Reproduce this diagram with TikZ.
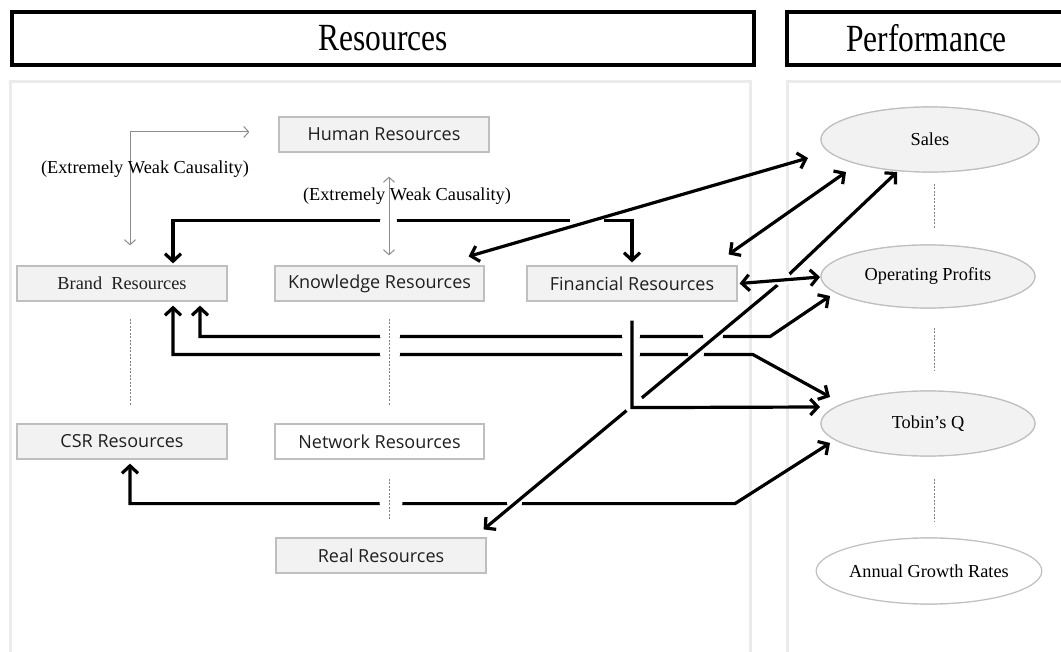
\documentclass[tikz,border=0pt]{standalone}
\usepackage{fontspec}
\usepackage{graphicx}
\setmainfont{Liberation Serif}
\newfontfamily\boxfont{Open Sans}
\usetikzlibrary{arrows.meta,shapes.geometric,calc}
\definecolor{boxfill}{HTML}{F2F2F2}
\definecolor{boxline}{HTML}{BFBFBF}
\definecolor{panelc}{HTML}{EBEBEB}
\definecolor{thinc}{HTML}{8C8C8C}
\definecolor{dotc}{HTML}{808080}
\begin{document}
\begin{tikzpicture}[x=1pt,y=-1pt,
  font=\fontsize{18.3}{21}\selectfont,
  bk/.tip={Straight Barb[length=7.5pt,width=16pt,line width=3.2pt]},
  gy/.tip={Straight Barb[length=5pt,width=11pt,line width=1pt]},
  res/.style={draw=boxline, fill=boxfill, line width=1.2pt, minimum width=210pt, minimum height=35pt, inner sep=0pt, font=\boxfont\fontsize{18}{21}\selectfont, text=black!88},
  perf/.style={ellipse, draw=boxline, fill=boxfill, line width=1.2pt, minimum width=214pt, minimum height=64pt, inner sep=0pt},
  header/.style={draw=black, line width=3.4pt, inner sep=0pt, minimum height=53pt, font=\fontsize{31.5}{36}\selectfont},
  link/.style={line width=3.2pt},
  thinlink/.style={draw=thinc, line width=1pt},
  dotline/.style={draw=dotc, line width=0.9pt, dash pattern=on 2pt off 1.5pt},
  gapc/.style={fill=white},
  weak/.style={font=\fontsize{18.3}{21}\selectfont}
]
\useasboundingbox (0,0) rectangle (1061,652);
\clip (0,0) rectangle (1061,652);

% panels
\draw[panelc, line width=3pt] (10,82) rectangle (750,680);
\draw[panelc, line width=3pt] (787,82) rectangle (1100,680);

% headers
\node[header, minimum width=742pt] (hres) at (383,38.5) {\scalebox{1}[1.22]{Resources}};
\node[header, minimum width=279pt] (hperf) at (926.5,38.5) {\scalebox{1}[1.22]{Performance}};

% nodes (shapes only, for anchors)
\path
  (384,134.5)   node[res] (human) {}
  (122,283.5)   node[res] (brand) {}
  (379.5,283.5) node[res, minimum width=209pt] (know) {}
  (632,283.5)   node[res] (fin) {}
  (122,441.5)   node[res] (csr) {}
  (379.5,441.5) node[res, minimum width=209pt, fill=white] (net) {}
  (381,555.5)   node[res] (real) {}
  (930,139.5)   node[perf, minimum width=218pt, minimum height=65pt] (sales) {}
  (928,276.5)   node[perf, minimum height=63pt] (op) {}
  (928,423.5)   node[perf, minimum height=65pt] (tobin) {}
  (929,571)     node[perf, minimum height=66pt, fill=white] (agr) {};

% thick connectors lying underneath
\draw[link, bk-bk] ($(brand.north)+(51,-2)$) -- ++(0,-43) -| ($(fin.north)+(0,-3)$);
\draw[link, bk-bk] ($(brand.south)+(78,4)$) -- ++(0,31) -- ++(570,0) -- ($(op.center)+(-98,19.5)$);
\draw[link, bk-bk] ($(brand.south)+(51,4)$) -- ++(0,49) -- ++(580,0) -- ($(tobin.center)+(-98,-26.5)$);
\draw[link, bk-bk] ($(csr.south)+(8,4)$) -- ++(0,40) -- ++(605,0) -- ($(tobin.center)+(-98,19.5)$);

% gaps where other lines pass over
\fill[gapc] (388.5,221) circle (8.5);
\fill[gapc] (587,221) circle (17);
\fill[gapc] (390,336) circle (10);
\fill[gapc] (390,354) circle (10);
\fill[gapc] (631,336) circle (9);
\fill[gapc] (631,354) circle (9);
\fill[gapc] (713,336) circle (10);
\fill[gapc] (696,354) circle (8);
\fill[gapc] (391,503) circle (11.5);
\fill[gapc] (514.5,503) circle (7.5);

% gray lines
\draw[thinlink, gy-gy] ($(human.south)+(5,24)$) -- ($(know.north)+(9.5,-10)$);
\draw[dotline] ($(know.south)+(9.5,17)$) -- ++(0,87);
\draw[dotline] ($(net.south)+(9.5,19)$) -- ++(0,42);
\draw[dotline] ($(brand.south)+(8,17)$) -- ++(0,87);
\draw[dotline] ($(sales.south)+(4,11)$) -- ++(0,45);
\draw[dotline] ($(op.south)+(6,19)$) -- ++(0,43);
\draw[dotline] ($(tobin.south)+(6,22)$) -- ++(0,43);
\draw[thinlink, gy-gy] ($(brand.north)+(8,-20)$) |- ($(human.west)+(-29,-2.5)$);

% diagonals
\draw[link, bk-bk] ($(know.north east)+(-16,-9)$) -- ($(sales.center)+(-122,18.5)$);
\coordinate (rbend) at (780,283);
\draw[link, bk-bk] ($(real.north east)+(-3,-8)$) -- (rbend) -- ($(sales.center)+(-33,32.5)$);

% gaps in the Real-Sales line
\fill[gapc] (634,404) circle (10);
\fill[gapc] (782,278) circle (8.5);

\draw[link, -bk] ($(fin.south)+(0,19)$) -- ++(0,87) -- ($(tobin.center)+(-108,-16.5)$);
\draw[link, bk-bk] ($(fin.east)+(2,0)$) -- ($(op.center)+(-108,0.5)$);
\draw[link, bk-bk] ($(fin.north east)+(-9,-11)$) -- ($(sales.center)+(-84,32.5)$);

% nodes with their texts on top
\path
  (human) node[res] {Human Resources}
  (brand) node[res, font=\fontsize{18.3}{21}\selectfont] {Brand\ \ Resources}
  (know) node[res, minimum width=209pt] {Knowledge Resources}
  (fin) node[res] {Financial Resources}
  (csr) node[res] {CSR Resources}
  (net) node[res, minimum width=209pt, fill=white] {Network Resources}
  (real) node[res] {Real Resources}
  (sales) node[perf, minimum width=218pt, minimum height=65pt] {Sales}
  (op) node[perf, minimum height=63pt] {Operating Profits}
  (tobin) node[perf, minimum height=65pt] {Tobin's Q}
  (agr) node[perf, minimum height=66pt, fill=white] {Annual Growth Rates};

% labels
\node[weak] (lab1) at (145,169) {(Extremely Weak Causality)};
\node[weak] (lab2) at (407,196) {(Extremely Weak Causality)};
\end{tikzpicture}
\end{document}
